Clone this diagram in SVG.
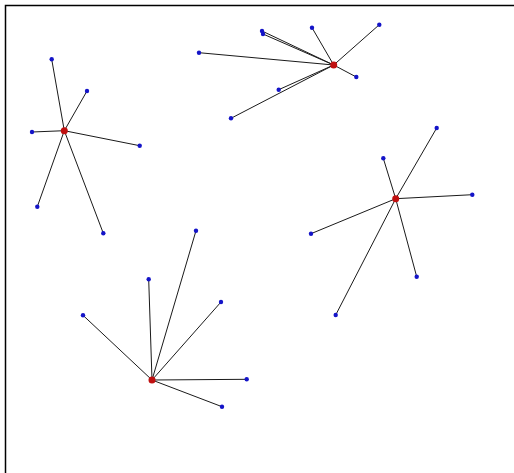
<svg xmlns="http://www.w3.org/2000/svg" width="514" height="473" viewBox="0 0 514 473">
<style>
.e{stroke:#1a1a1a;stroke-width:1;fill:none}
.l{fill:#1414c8}
.h{fill:#c01010}
</style>
<rect width="514" height="473" fill="#fff"/>
<path d="M5.5,473V5.5H514" fill="none" stroke="#000" stroke-width="1.5"/>
<g id="connectors">
<path class="e" d="M333.7,65L199,52.7M333.7,65L262,31M333.7,65L263,34M333.7,65L312,27.7M333.7,65L379.3,24.7M333.7,65L356.3,77M333.7,65L278.7,89.7M333.7,65L231,118.3"/>
<path class="e" d="M64.3,130.7L51.7,59.3M64.3,130.7L87,91M64.3,130.7L32,132M64.3,130.7L139.7,145.7M64.3,130.7L37.3,206.7M64.3,130.7L103.3,233.3"/>
<path class="e" d="M395.7,198.7L436.7,128M395.7,198.7L383.3,158.3M395.7,198.7L472.3,194.7M395.7,198.7L311,233.7M395.7,198.7L416.7,276.7M395.7,198.7L335.7,315"/>
<path class="e" d="M152,380L196,230.7M152,380L148.7,279.3M152,380L221,302M152,380L83,315.3M152,380L246.7,379.3M152,380L222,406.7"/>
</g>
<g id="cluster1">
<circle class="h" cx="333.7" cy="65" r="3.5"/>
<circle class="l" cx="199" cy="52.7" r="2.2"/>
<circle class="l" cx="262" cy="31" r="2.2"/>
<circle class="l" cx="263" cy="34" r="2.2"/>
<circle class="l" cx="312" cy="27.7" r="2.2"/>
<circle class="l" cx="379.3" cy="24.7" r="2.2"/>
<circle class="l" cx="356.3" cy="77" r="2.2"/>
<circle class="l" cx="278.7" cy="89.7" r="2.2"/>
<circle class="l" cx="231" cy="118.3" r="2.2"/>
</g>
<g id="cluster2">
<circle class="h" cx="64.3" cy="130.7" r="3.5"/>
<circle class="l" cx="51.7" cy="59.3" r="2.2"/>
<circle class="l" cx="87" cy="91" r="2.2"/>
<circle class="l" cx="32" cy="132" r="2.2"/>
<circle class="l" cx="139.7" cy="145.7" r="2.2"/>
<circle class="l" cx="37.3" cy="206.7" r="2.2"/>
<circle class="l" cx="103.3" cy="233.3" r="2.2"/>
</g>
<g id="cluster3">
<circle class="h" cx="395.7" cy="198.7" r="3.5"/>
<circle class="l" cx="436.7" cy="128" r="2.2"/>
<circle class="l" cx="383.3" cy="158.3" r="2.2"/>
<circle class="l" cx="472.3" cy="194.7" r="2.2"/>
<circle class="l" cx="311" cy="233.7" r="2.2"/>
<circle class="l" cx="416.7" cy="276.7" r="2.2"/>
<circle class="l" cx="335.7" cy="315" r="2.2"/>
</g>
<g id="cluster4">
<circle class="h" cx="152" cy="380" r="3.5"/>
<circle class="l" cx="196" cy="230.7" r="2.2"/>
<circle class="l" cx="148.7" cy="279.3" r="2.2"/>
<circle class="l" cx="221" cy="302" r="2.2"/>
<circle class="l" cx="83" cy="315.3" r="2.2"/>
<circle class="l" cx="246.7" cy="379.3" r="2.2"/>
<circle class="l" cx="222" cy="406.7" r="2.2"/>
</g>
</svg>
